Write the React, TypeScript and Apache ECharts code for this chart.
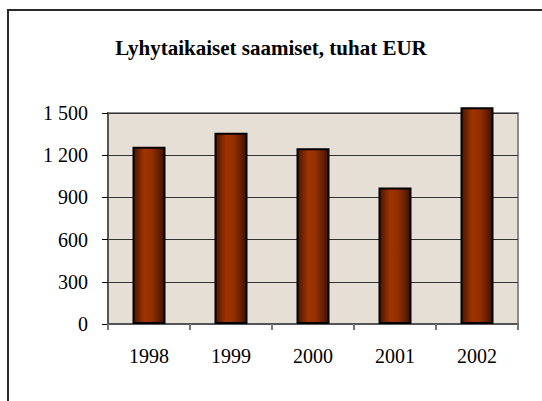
import React, { useEffect, useRef } from "react";
import * as echarts from "echarts";

const categories = ["1998", "1999", "2000", "2001", "2002"];
const values = [1260, 1360, 1250, 970, 1540];
const yTicks = [0, 300, 600, 900, 1200, 1500];
const titleText = "Lyhytaikaiset saamiset, tuhat EUR";

const fmt = (v: number) => String(v).replace(/\B(?=(\d{3})+(?!\d))/g, " ");

export default function App() {
  const ref = useRef<HTMLDivElement>(null);
  useEffect(() => {
    if (!ref.current) return;
    const chart = echarts.init(ref.current, undefined, { renderer: "svg" });
    const serif = "Liberation Serif";
    chart.setOption({
      animation: false,
      backgroundColor: "#ffffff",
      textStyle: { fontFamily: serif },
      title: {
        text: titleText,
        left: "center",
        top: 32,
        textStyle: { fontFamily: serif, fontWeight: "bold", fontSize: 21, color: "#000" },
      },
      graphic: [
        {
          type: "rect",
          shape: { x: 8, y: 10, width: 600, height: 440 },
          style: { fill: "none", stroke: "#2a2a2a", lineWidth: 2 },
          silent: true,
        },
      ],
      grid: {
        left: 108,
        right: 24,
        top: 113,
        bottom: 77,
        show: true,
        backgroundColor: "#e6dfd5",
        borderColor: "#8c8c8c",
        borderWidth: 2,
      },
      xAxis: {
        type: "category",
        data: categories,
        axisLine: { lineStyle: { color: "#555", width: 2 } },
        axisTick: { show: true, length: 6, alignWithLabel: false, lineStyle: { color: "#777", width: 2 } },
        axisLabel: { margin: 22, fontFamily: serif, fontSize: 20, color: "#000" },
      },
      yAxis: {
        type: "value",
        min: yTicks[0],
        max: yTicks[yTicks.length - 1],
        interval: 300,
        axisLine: { show: true, lineStyle: { color: "#555", width: 2 } },
        axisTick: { show: true, length: 6, lineStyle: { color: "#000", width: 1 } },
        splitLine: { show: true, lineStyle: { color: "#333", width: 1 } },
        axisLabel: {
          margin: 20,
          fontFamily: serif,
          fontSize: 20,
          color: "#000",
          formatter: (v: number) => fmt(v),
        },
      },
      series: [
        {
          type: "bar",
          data: values,
          barWidth: 33,
          clip: false,
          itemStyle: {
            borderColor: "#000",
            borderWidth: 2,
            color: new echarts.graphic.LinearGradient(0, 0, 1, 0, [
              { offset: 0, color: "#4a1500" },
              { offset: 0.35, color: "#a03400" },
              { offset: 0.6, color: "#922f00" },
              { offset: 1, color: "#3e1100" },
            ]),
          },
        },
      ],
    });
    return () => chart.dispose();
  }, []);
  return (
    <div
      ref={ref}
      style={{ position: "fixed", left: 0, top: 0, width: 542, height: 401 }}
    />
  );
}
